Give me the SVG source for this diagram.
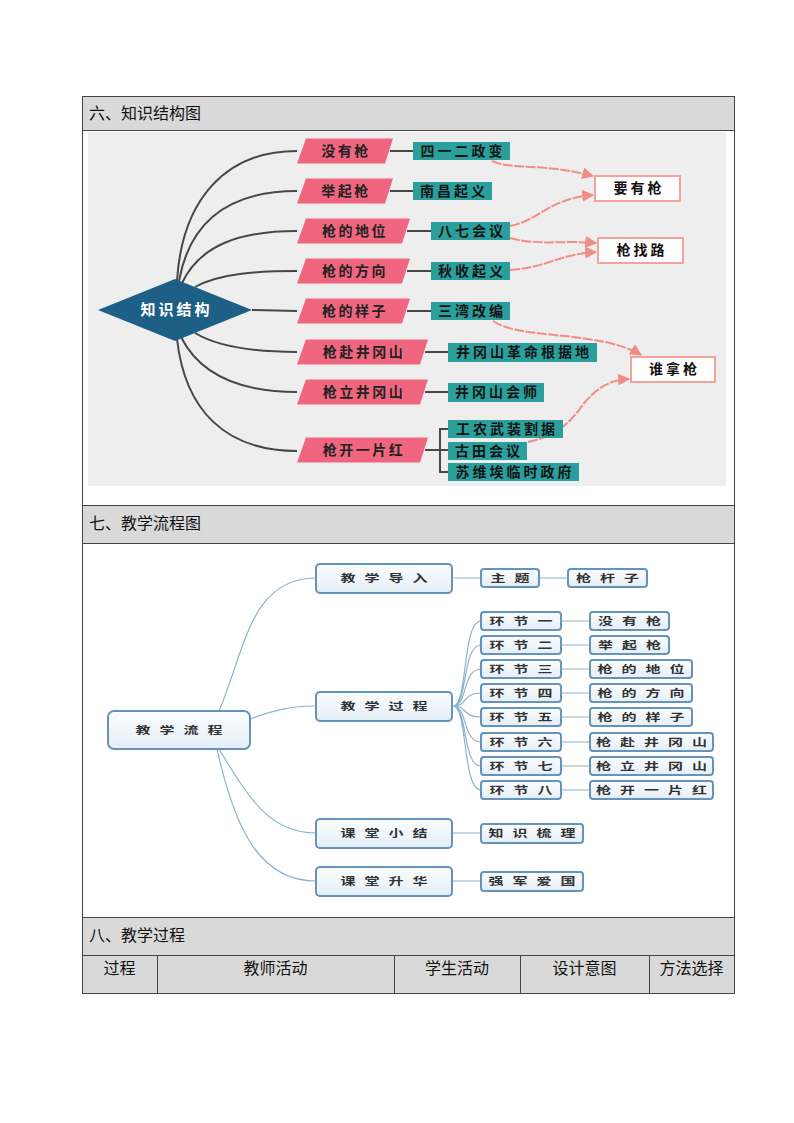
<svg xmlns="http://www.w3.org/2000/svg" width="794" height="1123" viewBox="0 0 794 1123">
<defs>
<style>
.hdr{font-family:"Noto Sans CJK SC","Liberation Sans",sans-serif;font-size:16px;fill:#111}
.pk{fill:#f0667f}
.pt{font-family:"Noto Sans CJK SC",sans-serif;font-size:14px;font-weight:bold;fill:#222;letter-spacing:2.5px;text-anchor:middle}
.tl{fill:#2a9f9c}
.tt{font-family:"Noto Sans CJK SC",sans-serif;font-size:14px;font-weight:bold;fill:#151515;letter-spacing:3px;text-anchor:middle}
.wb{fill:#fff;stroke:#f2a39b;stroke-width:2}
.wt{font-family:"Noto Sans CJK SC",sans-serif;font-size:14px;font-weight:bold;fill:#111;letter-spacing:3px;text-anchor:middle}
.dk{fill:none;stroke:#474747;stroke-width:2}
.ar{fill:none;stroke:#f08e86;stroke-width:2;stroke-dasharray:10 1.5}
.mb{fill:url(#mg);stroke:#6493bb;stroke-width:2}
.mt{font-family:"Noto Sans CJK SC",sans-serif;font-size:15px;font-weight:bold;fill:#333;letter-spacing:9px;text-anchor:middle}
.ml{fill:none;stroke:#8fb2cb;stroke-width:1.2}
.gr{fill:#d9d9d9}
.bd{fill:none;stroke:#444;stroke-width:1}
</style>
<linearGradient id="mg" x1="0" y1="0" x2="0" y2="1"><stop offset="0" stop-color="#fbfdff"/><stop offset="1" stop-color="#e4eef7"/></linearGradient>
<marker id="ah" viewBox="0 0 10 10" refX="9" refY="5" markerWidth="6" markerHeight="6" orient="auto"><path d="M0,0 L10,5 L0,10 Z" fill="#f08e86"/></marker>
</defs>
<rect width="794" height="1123" fill="#fff"/>
<g id="table">
<rect class="gr" x="82" y="96" width="652" height="34"/>
<rect class="gr" x="82" y="505" width="652" height="38"/>
<rect class="gr" x="82" y="917" width="652" height="76"/>
<rect class="bd" x="82.5" y="96.5" width="652" height="897"/>
<path class="bd" d="M82,130.5H734M82,505.5H734M82,543.5H734M82,917.5H734M82,955.5H734M157.5,955V993M394.5,955V993M520.5,955V993M649.5,955V993"/>
<text class="hdr" x="89" y="119">六、知识结构图</text>
<text class="hdr" x="89" y="529">七、教学流程图</text>
<text class="hdr" x="89" y="941">八、教学过程</text>
<text class="hdr" x="119.5" y="974" text-anchor="middle">过程</text>
<text class="hdr" x="275.5" y="974" text-anchor="middle">教师活动</text>
<text class="hdr" x="457" y="974" text-anchor="middle">学生活动</text>
<text class="hdr" x="584.5" y="974" text-anchor="middle">设计意图</text>
<text class="hdr" x="691.5" y="974" text-anchor="middle">方法选择</text>
</g>
<rect x="88" y="132" width="638" height="354" fill="#eeeeee"/>
<g id="k-connectors">
<path class="dk" d="M177,281 C182,200 225,151 297,151"/>
<path class="dk" d="M179,281 C190,220 230,191 297,191"/>
<path class="dk" d="M182,283 C200,245 240,231 297,231"/>
<path class="dk" d="M195,287 C220,273 260,271 297,271"/>
<path class="dk" d="M252,310 L297,311"/>
<path class="dk" d="M195,333 C220,348 260,352 297,352"/>
<path class="dk" d="M181,337 C200,375 240,392 297,392"/>
<path class="dk" d="M177,339 C185,410 225,451 297,451"/>
<path class="dk" d="M390,151H413M390,191H413M407,231H431M407,271H431M407,311H431M425,352H448M425,392H448M425,450H440M448,429H440V472H448M440,450H448"/>
<path class="ar" marker-end="url(#ah)" d="M492,161 C510,170 545,163 593,176"/>
<path class="ar" marker-end="url(#ah)" d="M510,226 C540,220 550,198 593,195"/>
<path class="ar" marker-end="url(#ah)" d="M510,238 C540,246 560,240 596,243"/>
<path class="ar" marker-end="url(#ah)" d="M510,270 C545,268 560,254 596,252"/>
<path class="ar" marker-end="url(#ah)" d="M493,321 C520,340 600,330 641,355"/>
<path class="ar" marker-end="url(#ah)" d="M528,442 C560,435 572,420 585,402 C600,385 612,380 629,379"/>
</g>
<g id="k-root"><polygon points="98,310 175,279 252,310 175,341" fill="#1e5f86"/><text x="176.5" y="315" font-family="Noto Sans CJK SC,sans-serif" font-size="15" font-weight="bold" fill="#fff" letter-spacing="3" text-anchor="middle">知识结构</text></g>
<g id="p1"><polygon class="pk" points="306,138.5 393,138.5 385,163.5 297,163.5"/><text class="pt" x="346" y="156">没有枪</text></g>
<g id="p2"><polygon class="pk" points="306,178.5 393,178.5 385,203.5 297,203.5"/><text class="pt" x="346" y="196">举起枪</text></g>
<g id="p3"><polygon class="pk" points="306,218.5 410,218.5 402,243.5 297,243.5"/><text class="pt" x="355" y="236">枪的地位</text></g>
<g id="p4"><polygon class="pk" points="306,258.5 410,258.5 402,283.5 297,283.5"/><text class="pt" x="355" y="276">枪的方向</text></g>
<g id="p5"><polygon class="pk" points="306,298.5 410,298.5 402,323.5 297,323.5"/><text class="pt" x="355" y="316">枪的样子</text></g>
<g id="p6"><polygon class="pk" points="306,339.5 428,339.5 420,364.5 297,364.5"/><text class="pt" x="364" y="357">枪赴井冈山</text></g>
<g id="p7"><polygon class="pk" points="306,379.5 428,379.5 420,404.5 297,404.5"/><text class="pt" x="364" y="397">枪立井冈山</text></g>
<g id="p8"><polygon class="pk" points="306,437.5 428,437.5 420,462.5 297,462.5"/><text class="pt" x="364" y="455">枪开一片红</text></g>
<g id="t1"><rect class="tl" x="413" y="142" width="97" height="18"/><text class="tt" x="463" y="156">四一二政变</text></g>
<g id="t2"><rect class="tl" x="413" y="182" width="79" height="18"/><text class="tt" x="454" y="196">南昌起义</text></g>
<g id="t3"><rect class="tl" x="431" y="222" width="79" height="18"/><text class="tt" x="472" y="236">八七会议</text></g>
<g id="t4"><rect class="tl" x="431" y="262" width="79" height="18"/><text class="tt" x="472" y="276">秋收起义</text></g>
<g id="t5"><rect class="tl" x="431" y="302" width="79" height="18"/><text class="tt" x="472" y="316">三湾改编</text></g>
<g id="t6"><rect class="tl" x="448" y="343" width="149" height="19"/><text class="tt" x="524" y="357">井冈山革命根据地</text></g>
<g id="t7"><rect class="tl" x="448" y="383" width="96" height="19"/><text class="tt" x="497.5" y="397">井冈山会师</text></g>
<g id="t8"><rect class="tl" x="448" y="420" width="115" height="18"/><text class="tt" x="507" y="434">工农武装割据</text></g>
<g id="t9"><rect class="tl" x="448" y="442" width="79" height="18"/><text class="tt" x="489" y="456">古田会议</text></g>
<g id="t10"><rect class="tl" x="448" y="463" width="131" height="18"/><text class="tt" x="515" y="477">苏维埃临时政府</text></g>
<g id="w1"><rect class="wb" x="595" y="176" width="85" height="25"/><text class="wt" x="639" y="193">要有枪</text></g>
<g id="w2"><rect class="wb" x="598" y="238" width="85" height="25"/><text class="wt" x="642" y="255">枪找路</text></g>
<g id="w3"><rect class="wb" x="631" y="357" width="84" height="25"/><text class="wt" x="674.5" y="374">谁拿枪</text></g>
<g id="m-connectors">
<path class="ml" d="M219,711 C245,650 250,578 316,578"/>
<path class="ml" d="M250,719 C275,710 290,706 316,706"/>
<path class="ml" d="M219,749 C250,800 270,833 316,833"/>
<path class="ml" d="M217,749 C235,830 260,881 316,881"/>
<path class="ml" d="M452,578H481M539,578H568"/>
<path class="ml" d="M453,706 C468,706 462,621 481,621M453,706 C468,706 462,645 481,645M453,706 C468,706 462,669 481,669M453,706 C468,706 462,693 481,693M453,706 C468,706 462,717 481,717M453,706 C468,706 462,742 481,742M453,706 C468,706 462,766 481,766M453,706 C468,706 462,790 481,790"/>
<path class="ml" d="M561,621H590M561,645H590M561,669H590M561,693H590M561,717H590M561,742H590M561,766H590M561,790H590M452,833H481M452,881H481"/>
</g>
<g id="m-root"><rect class="mb" x="108" y="711" width="142" height="38" rx="6" stroke-width="2.5"/><text class="mt" transform="translate(183.5,730) scale(1,0.72)" y="5.5">教学流程</text></g>
<g id="m-daoru"><rect class="mb" x="316" y="564" width="136" height="29" rx="4"/><text class="mt" transform="translate(388.5,578.5) scale(1,0.72)" y="5.5">教学导入</text></g>
<g id="m-guocheng"><rect class="mb" x="316" y="692" width="136" height="29" rx="4"/><text class="mt" transform="translate(388.5,706.5) scale(1,0.72)" y="5.5">教学过程</text></g>
<g id="m-xiaojie"><rect class="mb" x="316" y="819" width="136" height="29" rx="4"/><text class="mt" transform="translate(388.5,833.5) scale(1,0.72)" y="5.5">课堂小结</text></g>
<g id="m-shenghua"><rect class="mb" x="316" y="867" width="136" height="29" rx="4"/><text class="mt" transform="translate(388.5,881.5) scale(1,0.72)" y="5.5">课堂升华</text></g>
<g id="m-zhuti"><rect class="mb" x="481" y="569" width="58" height="18" rx="3"/><text class="mt" transform="translate(514.5,578) scale(1,0.72)" y="5.5">主题</text></g>
<g id="m-qgz"><rect class="mb" x="568" y="569" width="79" height="18" rx="3"/><text class="mt" transform="translate(612,578) scale(1,0.72)" y="5.5">枪杆子</text></g>
<g id="h1"><rect class="mb" x="481" y="612" width="80" height="18" rx="3"/><text class="mt" transform="translate(525.5,621) scale(1,0.72)" y="5.5">环节一</text></g>
<g id="h2"><rect class="mb" x="481" y="636" width="80" height="18" rx="3"/><text class="mt" transform="translate(525.5,645) scale(1,0.72)" y="5.5">环节二</text></g>
<g id="h3"><rect class="mb" x="481" y="660" width="80" height="18" rx="3"/><text class="mt" transform="translate(525.5,669) scale(1,0.72)" y="5.5">环节三</text></g>
<g id="h4"><rect class="mb" x="481" y="684" width="80" height="18" rx="3"/><text class="mt" transform="translate(525.5,693) scale(1,0.72)" y="5.5">环节四</text></g>
<g id="h5"><rect class="mb" x="481" y="708" width="80" height="18" rx="3"/><text class="mt" transform="translate(525.5,717) scale(1,0.72)" y="5.5">环节五</text></g>
<g id="h6"><rect class="mb" x="481" y="733" width="80" height="18" rx="3"/><text class="mt" transform="translate(525.5,742) scale(1,0.72)" y="5.5">环节六</text></g>
<g id="h7"><rect class="mb" x="481" y="757" width="80" height="18" rx="3"/><text class="mt" transform="translate(525.5,766) scale(1,0.72)" y="5.5">环节七</text></g>
<g id="h8"><rect class="mb" x="481" y="781" width="80" height="18" rx="3"/><text class="mt" transform="translate(525.5,790) scale(1,0.72)" y="5.5">环节八</text></g>
<g id="c1"><rect class="mb" x="590" y="612" width="79" height="18" rx="3"/><text class="mt" transform="translate(634,621) scale(1,0.72)" y="5.5">没有枪</text></g>
<g id="c2"><rect class="mb" x="590" y="636" width="79" height="18" rx="3"/><text class="mt" transform="translate(634,645) scale(1,0.72)" y="5.5">举起枪</text></g>
<g id="c3"><rect class="mb" x="590" y="660" width="102" height="18" rx="3"/><text class="mt" transform="translate(645.5,669) scale(1,0.72)" y="5.5">枪的地位</text></g>
<g id="c4"><rect class="mb" x="590" y="684" width="102" height="18" rx="3"/><text class="mt" transform="translate(645.5,693) scale(1,0.72)" y="5.5">枪的方向</text></g>
<g id="c5"><rect class="mb" x="590" y="708" width="102" height="18" rx="3"/><text class="mt" transform="translate(645.5,717) scale(1,0.72)" y="5.5">枪的样子</text></g>
<g id="c6"><rect class="mb" x="590" y="733" width="123" height="18" rx="3"/><text class="mt" transform="translate(656,742) scale(1,0.72)" y="5.5">枪赴井冈山</text></g>
<g id="c7"><rect class="mb" x="590" y="757" width="123" height="18" rx="3"/><text class="mt" transform="translate(656,766) scale(1,0.72)" y="5.5">枪立井冈山</text></g>
<g id="c8"><rect class="mb" x="590" y="781" width="123" height="18" rx="3"/><text class="mt" transform="translate(656,790) scale(1,0.72)" y="5.5">枪开一片红</text></g>
<g id="m-shuli"><rect class="mb" x="481" y="824" width="102" height="19" rx="3"/><text class="mt" transform="translate(536.5,833.5) scale(1,0.72)" y="5.5">知识梳理</text></g>
<g id="m-aiguo"><rect class="mb" x="481" y="872" width="102" height="19" rx="3"/><text class="mt" transform="translate(536.5,881.5) scale(1,0.72)" y="5.5">强军爱国</text></g>
</svg>
